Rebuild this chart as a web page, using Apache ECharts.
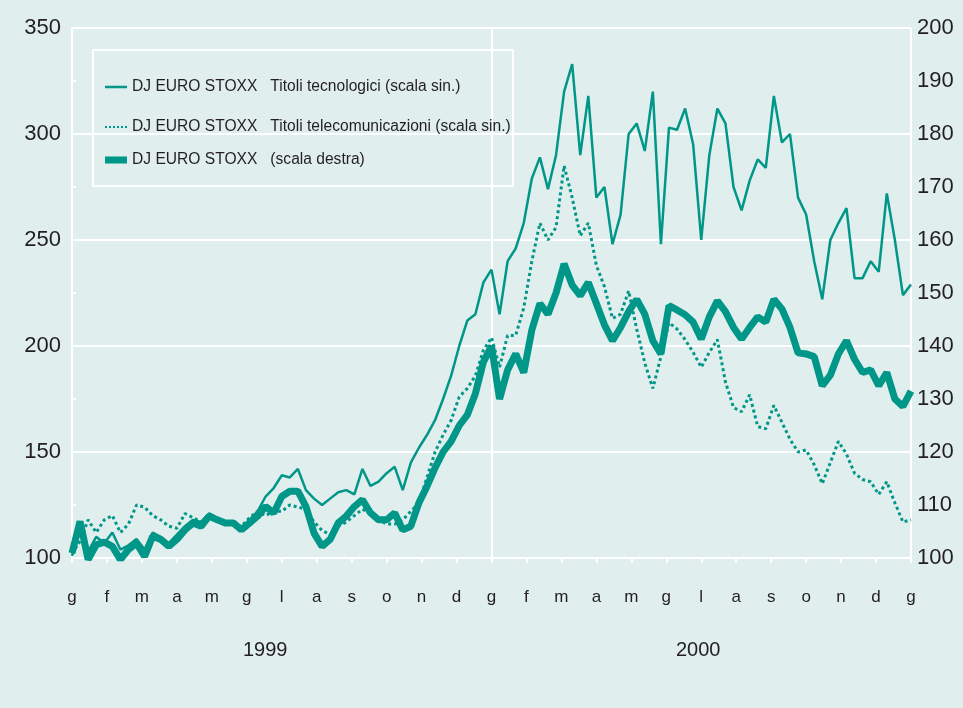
<!DOCTYPE html>
<html>
<head>
<meta charset="utf-8">
<script src="https://cdn.jsdelivr.net/npm/echarts@6/dist/echarts.min.js"></script>
<style>
html,body{margin:0;padding:0;background:#e0eeee;}
#chart{width:963px;height:708px;}
</style>
</head>
<body>
<div id="chart"></div>
<script>
// lettere dei mesi (gen 1999 - gen 2001)
var months = ['g','f','m','a','m','g','l','a','s','o','n','d','g','f','m','a','m','g','l','a','s','o','n','d','g'];
var years = ['1999', '2000'];

// dati settimanali, 105 osservazioni
// DJ EURO STOXX Titoli tecnologici (scala sin.)
var tech = [101,114,103,110,107,112,104,106,109,104,112,110,107,111,115,118,117,121,119,117,
    117,114,118,122,129,133,139,138,142,132,128,125,128,131,132,130,142,134,136,140,
    143,132,145,152,158,165,175,186,200,212,215,230,236,215,240,246,258,279,289,274,
    290,320,333,290,318,270,275,248,262,300,305,292,320,248,303,302,312,295,250,290,
    312,305,275,264,278,288,284,318,296,300,270,262,240,222,250,258,265,232,232,240,
    235,272,250,224,229];
// DJ EURO STOXX Titoli telecomunicazioni (scala sin.)
var telecom = [102,108,118,112,118,120,112,116,125,124,120,118,115,114,121,119,117,120,118,117,
    116,115,119,122,120,122,122,125,124,123,117,113,111,115,117,120,123,121,118,116,
    116,118,122,126,138,150,158,165,176,180,186,198,204,190,205,205,218,240,258,250,
    256,285,270,252,258,238,228,213,215,226,208,192,180,195,211,208,203,197,190,197,
    203,183,171,169,177,162,161,172,164,156,150,151,144,135,145,155,149,140,137,136,
    130,136,126,117,118];
// DJ EURO STOXX (scala destra)
var stoxx = [100.9,106.9,99.7,102.5,103,102.2,99.7,101.6,102.8,100.3,104.1,103.5,102.2,103.5,105.3,106.6,106,107.9,107.2,106.6,
    106.6,105.3,106.6,107.9,109.7,108.5,111.6,112.6,112.6,109.7,104.7,102.2,103.5,106.6,107.9,109.7,111,108.5,107.2,107.2,
    108.5,105.3,106,110.4,113.5,117,120,122,125,127,131,137,140,130,135.5,138.5,135,143,148,146,
    150,155.5,151.5,149.5,152,148,144,141,143.5,146.5,148.8,146,141,138.5,147.6,146.8,145.9,144.5,141.3,145.5,
    148.5,146.5,143.5,141.3,143.5,145.5,144.5,148.8,147,143.5,138.7,138.5,138,132.5,134.5,138.5,141,137.5,135,135.5,
    132.5,135,130,128.6,131.5];

var names = [
    'DJ EURO STOXX   Titoli tecnologici (scala sin.)',
    'DJ EURO STOXX   Titoli telecomunicazioni (scala sin.)',
    'DJ EURO STOXX   (scala destra)'
];

var teal = '#009688';
var ink = '#231f20';
var font = 'Arial, "Liberation Sans", sans-serif';

var dotIcon = 'path://M0,0h2v2h-2zM4,0h2v2h-2zM8,0h2v2h-2zM12,0h2v2h-2zM16,0h2v2h-2zM20,0h2v2h-2z';

// posizione in mesi di ogni settimana
function toPoints(arr) {
    var out = [];
    for (var i = 0; i < arr.length; i++) {
        out.push([i * 24 / (arr.length - 1), arr[i]]);
    }
    return out;
}

var chart = echarts.init(document.getElementById('chart'));

function legendRow(name, top, icon, h) {
    return {
        data: [{name: name, icon: icon}],
        left: 100,
        top: top,
        itemWidth: 22,
        itemHeight: h,
        itemGap: 10,
        selectedMode: false,
        itemStyle: {color: teal, borderWidth: 0},
        lineStyle: {width: 0},
        textStyle: {color: ink, fontSize: 15.6, fontFamily: font}
    };
}

var option = {
    backgroundColor: '#e0eeee',
    animation: false,
    grid: {left: 72, right: 52, top: 28, bottom: 150},
    legend: [
        legendRow(names[0], 74, 'rect', 2.5),
        legendRow(names[1], 114, dotIcon, 2),
        legendRow(names[2], 147, 'rect', 7)
    ],
    graphic: [
        {
            type: 'rect',
            shape: {x: 93, y: 50, width: 420, height: 136},
            style: {fill: 'none', stroke: '#ffffff', lineWidth: 2},
            z: 1
        },
        {
            type: 'text', left: 243, top: 640,
            style: {text: years[0], fill: ink, font: '20px ' + font}
        },
        {
            type: 'text', left: 676, top: 640,
            style: {text: years[1], fill: ink, font: '20px ' + font}
        }
    ],
    xAxis: [
        {
            type: 'value',
            min: 0,
            max: 24,
            interval: 1,
            axisLine: {show: true, lineStyle: {color: '#ffffff', width: 2}},
            axisTick: {show: true, length: 5, lineStyle: {color: '#ffffff', width: 2}},
            splitLine: {show: false},
            axisLabel: {
                color: ink,
                fontSize: 17,
                fontFamily: font,
                margin: 31,
                formatter: function (v) { return months[Math.round(v)]; }
            }
        },
        {
            type: 'value',
            min: 0,
            max: 24,
            interval: 12,
            position: 'bottom',
            axisLine: {show: false},
            axisTick: {show: false},
            axisLabel: {show: false},
            splitLine: {show: true, lineStyle: {color: '#ffffff', width: 2}}
        }
    ],
    yAxis: [
        {
            type: 'value',
            min: 100,
            max: 350,
            interval: 50,
            axisLine: {show: true, lineStyle: {color: '#ffffff', width: 2}},
            axisTick: {show: false},
            splitLine: {show: true, lineStyle: {color: '#ffffff', width: 2}},
            axisLabel: {color: ink, fontSize: 22, fontFamily: font, margin: 11}
        },
        {
            type: 'value',
            min: 100,
            max: 200,
            interval: 10,
            position: 'right',
            axisLine: {show: true, lineStyle: {color: '#ffffff', width: 2}},
            axisTick: {show: true, length: 4, lineStyle: {color: '#ffffff', width: 2}},
            splitLine: {show: false},
            axisLabel: {color: ink, fontSize: 22, fontFamily: font, margin: 6}
        }
    ],
    series: [
        {
            name: names[0],
            type: 'line',
            xAxisIndex: 0,
            yAxisIndex: 0,
            data: toPoints(tech),
            showSymbol: false,
            symbol: 'none',
            color: teal,
            lineStyle: {color: teal, width: 2.5},
            z: 3
        },
        {
            name: names[1],
            type: 'line',
            xAxisIndex: 0,
            yAxisIndex: 0,
            data: toPoints(telecom),
            showSymbol: false,
            symbol: 'none',
            color: teal,
            lineStyle: {color: teal, width: 3, type: [3, 3]},
            z: 3
        },
        {
            name: names[2],
            type: 'line',
            xAxisIndex: 0,
            yAxisIndex: 1,
            data: toPoints(stoxx),
            showSymbol: false,
            symbol: 'none',
            color: teal,
            lineStyle: {color: teal, width: 7},
            z: 4
        }
    ]
};

chart.setOption(option);
</script>
</body>
</html>
